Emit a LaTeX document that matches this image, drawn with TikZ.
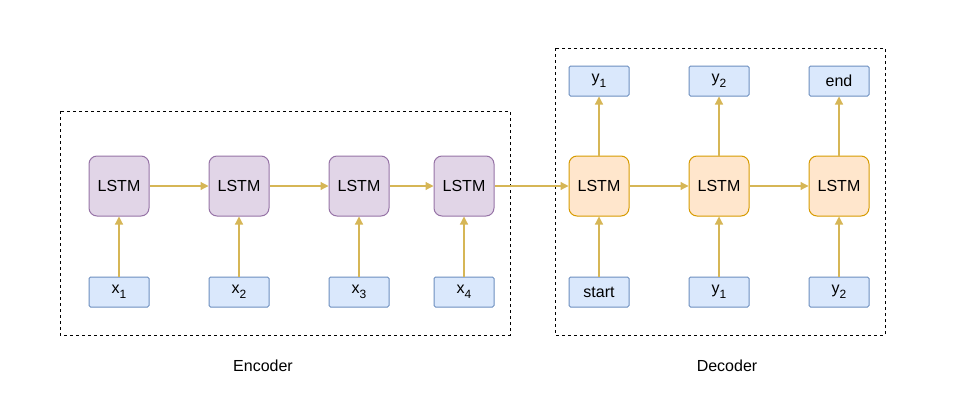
\documentclass[tikz,border=0pt]{standalone}
\usepackage{fontspec}
\setmainfont{Liberation Sans}
\usetikzlibrary{arrows.meta,positioning}

\definecolor{cellfill}{HTML}{E1D5E7}
\definecolor{celldraw}{HTML}{9673A6}
\definecolor{decfill}{HTML}{FFE6CC}
\definecolor{decdraw}{HTML}{D79B00}
\definecolor{iofill}{HTML}{DAE8FC}
\definecolor{iodraw}{HTML}{6C8EBF}
\definecolor{flow}{HTML}{D6B656}

% lowered index, as in x1
\newcommand{\idx}[1]{\raisebox{-0.3em}{\fontsize{12}{13}\selectfont #1}}

\begin{document}
\begin{tikzpicture}[x=1pt,y=-1pt,
    every node/.style={font=\fontsize{16}{19}\selectfont},
    enccell/.style={draw=celldraw, fill=cellfill, line width=1pt, rounded corners=8pt, minimum width=60pt, minimum height=60pt, inner sep=0pt},
    deccell/.style={draw=decdraw, fill=decfill, line width=1pt, rounded corners=8pt, minimum width=60pt, minimum height=60pt, inner sep=0pt},
    iobox/.style={draw=iodraw, fill=iofill, line width=1pt, rounded corners=1.5pt, minimum width=60pt, minimum height=30pt, inner sep=0pt},
    flowarrow/.style={draw=flow, line width=1.2pt, -{Triangle[length=8pt,width=8pt]}},
    groupbox/.style={draw=black, line width=1pt, dash pattern=on 3pt off 3pt}]

    \useasboundingbox (0,0) rectangle (961,415);

    % encoder / decoder frames
    \draw[groupbox] (60,111) rectangle (510,335);
    \draw[groupbox] (555,48) rectangle (885,335);

    % encoder
    \node[enccell] (e1) at (119,186) {LSTM};
    \node[enccell] (e2) at (239,186) {LSTM};
    \node[enccell] (e3) at (359,186) {LSTM};
    \node[enccell] (e4) at (464,186) {LSTM};
    \node[iobox] (x1) at (119,292) {x\idx{1}};
    \node[iobox] (x2) at (239,292) {x\idx{2}};
    \node[iobox] (x3) at (359,292) {x\idx{3}};
    \node[iobox] (x4) at (464,292) {x\idx{4}};

    % decoder
    \node[deccell] (d1) at (599,186) {LSTM};
    \node[deccell] (d2) at (719,186) {LSTM};
    \node[deccell] (d3) at (839,186) {LSTM};
    \node[iobox] (in1) at (599,292) {start};
    \node[iobox] (in2) at (719,292) {y\idx{1}};
    \node[iobox] (in3) at (839,292) {y\idx{2}};
    \node[iobox] (out1) at (599,81) {y\idx{1}};
    \node[iobox] (out2) at (719,81) {y\idx{2}};
    \node[iobox] (out3) at (839,81) {end};

    \foreach \a/\b in {e1/e2, e2/e3, e3/e4, e4/d1, d1/d2, d2/d3}
        \draw[flowarrow] (\a) -- (\b);
    \foreach \i in {1,2,3,4}
        \draw[flowarrow] (x\i) -- (e\i);
    \foreach \i in {1,2,3} {
        \draw[flowarrow] (in\i) -- (d\i);
        \draw[flowarrow] (d\i) -- (out\i);
    }

    \node (enclabel) at (263,366) {Encoder};
    \node (declabel) at (727,366) {Decoder};

\end{tikzpicture}
\end{document}
